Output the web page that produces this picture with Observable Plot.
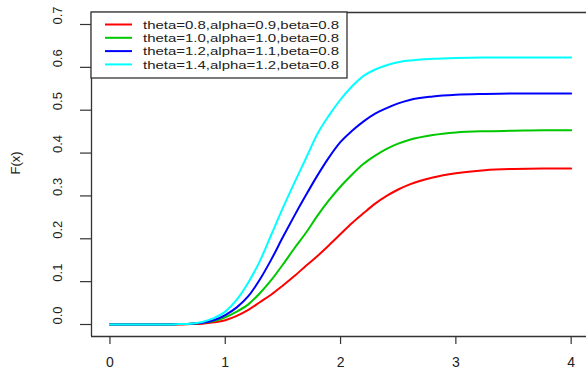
<!DOCTYPE html>
<html><head><meta charset="utf-8">
<script src="https://cdn.jsdelivr.net/npm/d3@7"></script>
<script src="https://cdn.jsdelivr.net/npm/@observablehq/plot@0.6"></script>
<style>body{margin:0;background:#fff}</style>
</head><body><div id="chart"></div>
<script>
const xValues = [0,0.1,0.2,0.3,0.4,0.5,0.6,0.7,0.8,0.9,1.0,1.1,1.2,1.3,1.4,1.5,1.6,1.7,1.8,1.9,2.0,2.1,2.2,2.3,2.4,2.5,2.6,2.8,3.0,3.25,3.5,3.75,4.0];
const redF   = [0,0,0,0,0,0,0,0.001,0.002,0.005,0.010,0.020,0.034,0.052,0.070,0.091,0.113,0.137,0.160,0.185,0.211,0.237,0.260,0.282,0.300,0.315,0.327,0.343,0.353,0.360,0.363,0.364,0.364];
const greenF = [0,0,0,0,0,0,0.001,0.002,0.004,0.008,0.017,0.030,0.047,0.073,0.104,0.140,0.178,0.214,0.254,0.290,0.322,0.350,0.375,0.394,0.410,0.422,0.431,0.442,0.448,0.451,0.452,0.453,0.453];
const blueF  = [0,0,0,0,0,0,0.001,0.002,0.004,0.010,0.022,0.040,0.066,0.105,0.152,0.204,0.254,0.302,0.348,0.390,0.426,0.452,0.474,0.492,0.505,0.516,0.524,0.532,0.536,0.538,0.539,0.539,0.539];
const cyanF  = [0,0,0,0,0,0,0.001,0.002,0.006,0.015,0.030,0.058,0.098,0.148,0.210,0.272,0.331,0.388,0.445,0.488,0.525,0.556,0.580,0.595,0.605,0.612,0.616,0.620,0.622,0.623,0.623,0.623,0.623];
const seriesNames = ["theta=0.8,alpha=0.9,beta=0.8","theta=1.0,alpha=1.0,beta=0.8","theta=1.2,alpha=1.1,beta=0.8","theta=1.4,alpha=1.2,beta=0.8"];
const seriesColors = ["#ff0000","#00c800","#0000ff","#00ffff"];
const xTicks = [0,1,2,3,4];
const yTicks = [0,0.1,0.2,0.3,0.4,0.5,0.6,0.7];
const yLabel = "F(x)";

const allF = [redF, greenF, blueF, cyanF];
const data = [];
allF.forEach((arr, i) => arr.forEach((v, j) => data.push({x: xValues[j], F: v, s: seriesNames[i]})));

const axisColor = "#333";
const chart = Plot.plot({
  width: 586, height: 369,
  marginLeft: 91, marginRight: 0, marginTop: 12, marginBottom: 33,
  style: {fontFamily: "'Liberation Sans', Arial, sans-serif", fontSize: "13px", background: "#fff", color: "#222"},
  x: {domain: [-0.16, 4.133], axis: null},
  y: {domain: [-0.028, 0.728], axis: null},
  color: {domain: seriesNames, range: seriesColors},
  marks: [
    Plot.ruleX([-0.16], {stroke: axisColor, strokeWidth: 1.3}),
    Plot.ruleY([-0.028, 0.728], {stroke: axisColor, strokeWidth: 1.3}),
    Plot.axisY({ticks: yTicks, tickSize: 11, tickFormat: () => "", label: null, stroke: axisColor, strokeWidth: 1.2}),
    Plot.axisX({ticks: xTicks, tickSize: 8, tickFormat: () => "", label: null, stroke: axisColor, strokeWidth: 1.2}),
    Plot.text(yTicks, {y: d => d, text: d => d3.format(".1f")(d), frameAnchor: "left", dx: -34, rotate: -90, fill: "#222", fontSize: 13}),
    Plot.text(xTicks, {x: d => d, text: d => String(d), frameAnchor: "bottom", dy: 26, lineAnchor: "middle", fill: "#222", fontSize: 14}),
    Plot.text([yLabel], {text: d => d, frameAnchor: "left", dx: -76, rotate: -90, fill: "#222", fontSize: 13}),
    Plot.line(data, {x: "x", y: "F", z: "s", stroke: "s", strokeWidth: 2, curve: "monotone-x"})
  ]
});
document.getElementById("chart").appendChild(chart);

// legend inside the plot box
const svg = d3.select(chart);
const lg = svg.append("g").attr("text-anchor", "start");
lg.append("rect").attr("x", 91).attr("y", 12).attr("width", 256).attr("height", 66)
  .attr("fill", "#fff").attr("stroke", axisColor).attr("stroke-width", 1.3);
seriesNames.forEach((name, i) => {
  const cy = 24.5 + i * 13.3;
  lg.append("line").attr("x1", 105).attr("x2", 132).attr("y1", cy).attr("y2", cy)
    .attr("stroke", seriesColors[i]).attr("stroke-width", 2);
  lg.append("text").attr("x", 143).attr("y", cy).attr("dy", "0.36em")
    .attr("text-anchor", "start")
    .attr("textLength", 196).attr("lengthAdjust", "spacingAndGlyphs")
    .attr("font-family", "'Liberation Sans', Arial, sans-serif").attr("font-size", 11.5).attr("fill", "#222")
    .text(name);
});
</script></body></html>
